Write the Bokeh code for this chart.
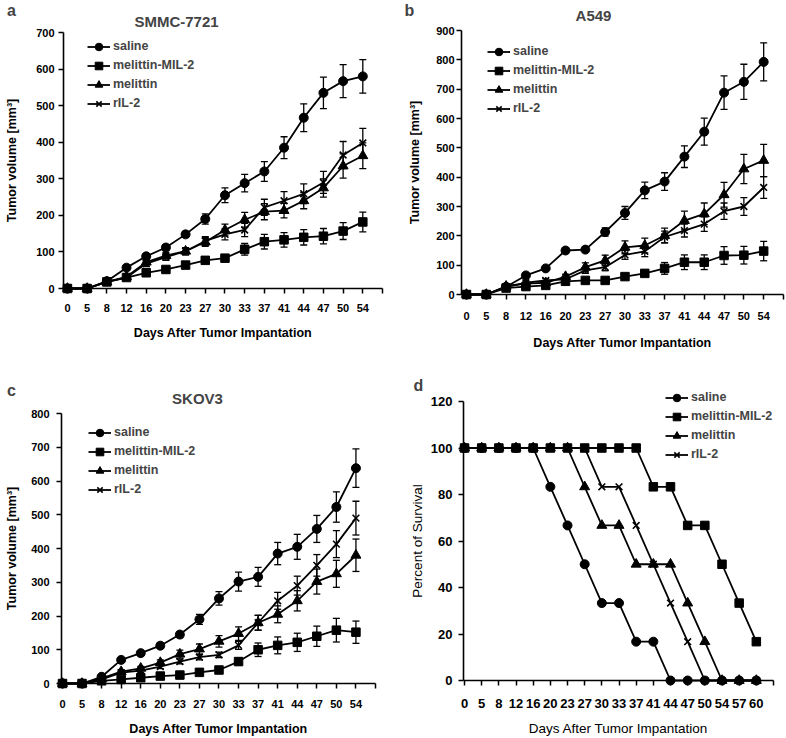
from bokeh.plotting import figure
from bokeh.models import (ColumnDataSource, Whisker, TeeHead, Legend, LegendItem,
                          FixedTicker, Label, Range1d)
from bokeh.layouts import column, row
from bokeh.embed import file_html
from bokeh.resources import INLINE

FONT = "Liberation Sans"

DAYS_TUMOR = ["0", "5", "8", "12", "16", "20", "23", "27", "30", "33", "37", "41", "44", "47", "50", "54"]
DAYS_SURV = ["0", "5", "8", "12", "16", "20", "23", "27", "30", "33", "37", "41", "44", "47", "50", "54", "57", "60"]
SERIES = ["saline", "melittin-MIL-2", "melittin", "rIL-2"]
MARKERS = ["circle", "square", "triangle", "x"]

# Panel a: SMMC-7721
a_saline = [0, 0, 20, 57, 88, 112, 148, 190, 255, 288, 320, 385, 467, 535, 567, 580]
a_saline_err = [0, 0, 4, 6, 7, 8, 8, 14, 20, 24, 27, 30, 38, 43, 45, 46]
a_mil2 = [0, 0, 18, 30, 43, 52, 64, 77, 83, 107, 128, 133, 140, 143, 157, 182]
a_mil2_err = [0, 0, 3, 4, 5, 5, 6, 8, 9, 16, 20, 20, 21, 21, 23, 27]
a_mel = [0, 0, 18, 32, 72, 90, 102, 127, 160, 188, 210, 213, 240, 275, 335, 363]
a_mel_err = [0, 0, 3, 5, 8, 9, 10, 12, 16, 20, 22, 20, 22, 25, 33, 35]
a_ril2 = [0, 0, 18, 30, 68, 86, 102, 130, 148, 160, 222, 240, 259, 290, 365, 398]
a_ril2_err = [0, 0, 3, 5, 8, 9, 10, 12, 15, 18, 22, 25, 27, 30, 37, 40]

# Panel b: A549
b_saline = [0, 0, 26, 65, 89, 150, 153, 213, 278, 355, 385, 470, 555, 688, 725, 793]
b_saline_err = [0, 0, 4, 6, 7, 8, 8, 14, 22, 28, 30, 37, 46, 57, 60, 65]
b_mil2 = [0, 0, 22, 27, 31, 45, 48, 48, 61, 72, 89, 110, 110, 133, 134, 148]
b_mil2_err = [0, 0, 3, 4, 5, 6, 6, 6, 8, 10, 20, 25, 25, 30, 30, 33]
b_mel = [0, 0, 28, 37, 40, 61, 93, 116, 161, 167, 201, 252, 275, 340, 428, 457]
b_mel_err = [0, 0, 4, 5, 6, 8, 15, 18, 22, 25, 25, 32, 37, 42, 50, 55]
b_ril2 = [0, 0, 27, 40, 48, 52, 82, 93, 135, 147, 196, 218, 240, 284, 300, 365]
b_ril2_err = [0, 0, 4, 5, 6, 7, 10, 12, 15, 18, 20, 22, 25, 28, 30, 37]

# Panel c: SKOV3
c_saline = [0, 0, 20, 70, 90, 112, 145, 190, 252, 302, 316, 385, 405, 458, 523, 638]
c_saline_err = [0, 0, 4, 6, 7, 8, 9, 15, 20, 28, 28, 33, 37, 40, 45, 57]
c_mil2 = [0, 0, 8, 12, 17, 22, 25, 33, 40, 65, 100, 113, 122, 140, 158, 152]
c_mil2_err = [0, 0, 2, 3, 4, 5, 5, 6, 7, 10, 20, 25, 27, 30, 35, 33]
c_mel = [0, 0, 15, 35, 45, 62, 87, 102, 125, 148, 180, 205, 245, 302, 325, 380]
c_mel_err = [0, 0, 3, 5, 6, 8, 12, 15, 17, 20, 22, 25, 30, 37, 40, 48]
c_ril2 = [0, 0, 12, 32, 38, 50, 65, 78, 85, 113, 180, 245, 290, 350, 413, 490]
c_ril2_err = [0, 0, 3, 4, 5, 6, 7, 8, 8, 12, 22, 25, 28, 32, 40, 50]

# Panel d: survival (%)
d_saline = [100, 100, 100, 100, 100, 83.3, 66.7, 50, 33.3, 33.3, 16.7, 16.7, 0, 0, 0, 0, 0, 0]
d_mil2 = [100, 100, 100, 100, 100, 100, 100, 100, 100, 100, 100, 83.3, 83.3, 66.7, 66.7, 50, 33.3, 16.7]
d_mel = [100, 100, 100, 100, 100, 100, 100, 83.3, 66.7, 66.7, 50, 50, 50, 33.3, 16.7, 0, 0, 0]
d_ril2 = [100, 100, 100, 100, 100, 100, 100, 100, 83.3, 83.3, 66.7, 50, 33.3, 16.7, 0, 0, 0, 0]

MSIZE = {"circle": 9, "square": 8.5, "triangle": 10, "x": 9.5}


def make_panel(fig_box, axes_box, xr, yr, cats, values, errs, ytick_step,
               ylabel, title, letter, legend_px, tick_font, title_bold,
               xt_standoff, xl_standoff, yt_standoff, yl_standoff, title_pos, letter_pos,
               axis_font="12.5px"):
    ox, oy, W, H = fig_box
    L, R, T, B = axes_box  # image pixel coords of the axis box
    upx = (xr[1] - xr[0]) / (R - L)
    upy = (yr[1] - yr[0]) / (B - T)
    X0 = xr[0] - (L - ox) * upx
    X1 = xr[1] + (ox + W - R) * upx
    Y0 = yr[0] - (oy + H - B) * upy
    Y1 = yr[1] + (T - oy) * upy

    p = figure(width=W, height=H, output_backend="svg", toolbar_location=None,
               x_range=Range1d(X0, X1), y_range=Range1d(Y0, Y1),
               min_border_left=0, min_border_right=0,
               min_border_top=0, min_border_bottom=0)
    p.outline_line_color = None
    p.grid.visible = False
    p.background_fill_color = "white"
    p.border_fill_color = "white"

    def px2data(px, py):
        return X0 + (px - ox) * upx, Y0 + (oy + H - py) * upy

    n = len(cats)
    xs = list(range(n))
    items = []
    for name, marker, vals, err in zip(SERIES, MARKERS, values, errs):
        src = ColumnDataSource(dict(x=xs, y=vals))
        lr = p.line("x", "y", source=src, line_color="black", line_width=1.8)
        sr = p.scatter("x", "y", source=src, marker=marker, size=MSIZE[marker],
                       fill_color="black", line_color="black",
                       line_width=1.6 if marker == "x" else 1)
        if err is not None:
            up = [v + e for v, e in zip(vals, err)]
            lo = [v - e for v, e in zip(vals, err)]
            esrc = ColumnDataSource(dict(x=xs, upper=up, lower=lo))
            w = Whisker(base="x", upper="upper", lower="lower", source=esrc,
                        line_color="black", line_width=1.3,
                        upper_head=TeeHead(size=7, line_color="black", line_width=1.3),
                        lower_head=TeeHead(size=7, line_color="black", line_width=1.3))
            p.add_layout(w)
        items.append(LegendItem(label=name, renderers=[lr, sr]))

    gx, gy = legend_px
    leg_h = 4 * 19
    leg = Legend(items=items, location=(gx - ox, (oy + H) - gy - leg_h),
                 glyph_width=23, glyph_height=19, label_height=19, spacing=0,
                 padding=0, margin=0, label_standoff=3,
                 label_text_font=FONT, label_text_font_style="bold",
                 label_text_font_size="12.5px", border_line_color=None,
                 background_fill_alpha=0)
    p.add_layout(leg)

    xa = p.xaxis[0]
    xa.fixed_location = yr[0]
    xa.bounds = (xr[0], xr[1])
    xa.ticker = FixedTicker(ticks=list(range(n + 1)))
    overrides = {i: c for i, c in enumerate(cats)}
    overrides[n] = ""
    xa.major_label_overrides = overrides
    xa.axis_label = "Days After Tumor Impantation"
    ya = p.yaxis[0]
    ya.fixed_location = xr[0]
    ya.bounds = (yr[0], yr[1])
    ya.ticker = FixedTicker(ticks=list(range(int(yr[0]), int(yr[1]) + 1, ytick_step)))
    ya.axis_label = ylabel
    for ax in (xa, ya):
        ax.axis_line_color = "black"
        ax.axis_line_width = 1.6
        ax.major_tick_line_color = "black"
        ax.major_tick_line_width = 1.5
        ax.major_tick_out = 5
        ax.major_tick_in = 0
        ax.minor_tick_line_color = None
        ax.major_label_text_font = FONT
        ax.major_label_text_font_style = "bold"
        ax.major_label_text_font_size = tick_font
        ax.major_label_text_color = "black"
        ax.axis_label_text_font = FONT
        ax.axis_label_text_font_style = "bold" if title_bold else "normal"
        ax.axis_label_text_font_size = axis_font
        ax.axis_label_text_color = "black"
    xa.major_label_standoff = xt_standoff
    xa.axis_label_standoff = xl_standoff
    ya.major_label_standoff = yt_standoff
    ya.axis_label_standoff = yl_standoff
    ya.major_label_orientation = "horizontal"

    if title:
        tx, ty = px2data(*title_pos)
        p.add_layout(Label(x=tx, y=ty, text=title, text_align="center",
                           text_baseline="middle", text_font=FONT,
                           text_font_style="bold", text_font_size="15px"))
    lx, ly = px2data(*letter_pos)
    p.add_layout(Label(x=lx, y=ly, text=letter, text_align="center",
                       text_baseline="middle", text_font=FONT,
                       text_font_style="bold", text_font_size="16px"))
    return p


YL = "Tumor volume [mm³]"

pa = make_panel((0, 0, 393, 369), (63, 382, 32, 288), (-0.2, 16.0), (0, 700), DAYS_TUMOR,
                [a_saline, a_mil2, a_mel, a_ril2], [a_saline_err, a_mil2_err, a_mel_err, a_ril2_err],
                100, YL, "SMMC-7721", "a", (87, 36.5), "11px", True,
                10, 11, 4, 14, (176, 21), (11, 10))
pb = make_panel((393, 0, 392, 369), (461, 783, 30, 294), (-0.25, 16.0), (0, 900), DAYS_TUMOR,
                [b_saline, b_mil2, b_mel, b_ril2], [b_saline_err, b_mil2_err, b_mel_err, b_ril2_err],
                100, YL, "A549", "b", (487, 41.5), "11px", True,
                12, 13, 2, 11, (593, 15), (409, 10))
pc = make_panel((0, 369, 393, 368), (61, 375, 413, 683), (-0.05, 16.0), (0, 800), DAYS_TUMOR,
                [c_saline, c_mil2, c_mel, c_ril2], [c_saline_err, c_mil2_err, c_mel_err, c_ril2_err],
                100, YL, "SKOV3", "c", (88, 422.5), "11px", True,
                11, 11, 7, 9, (197, 398), (11, 390))
pd = make_panel((393, 369, 392, 368), (463, 773, 401, 680), (-0.06, 18.0), (0, 120), DAYS_SURV,
                [d_saline, d_mil2, d_mel, d_ril2], [None, None, None, None],
                20, "Percent of Survival", None, "d", (665, 387.5), "13px", False,
                13, 10, 6, 3, None, (418, 385), axis_font="13.5px")

layout = column(row(pa, pb), row(pc, pd))
open("out.html", "w").write(file_html(layout, INLINE))
